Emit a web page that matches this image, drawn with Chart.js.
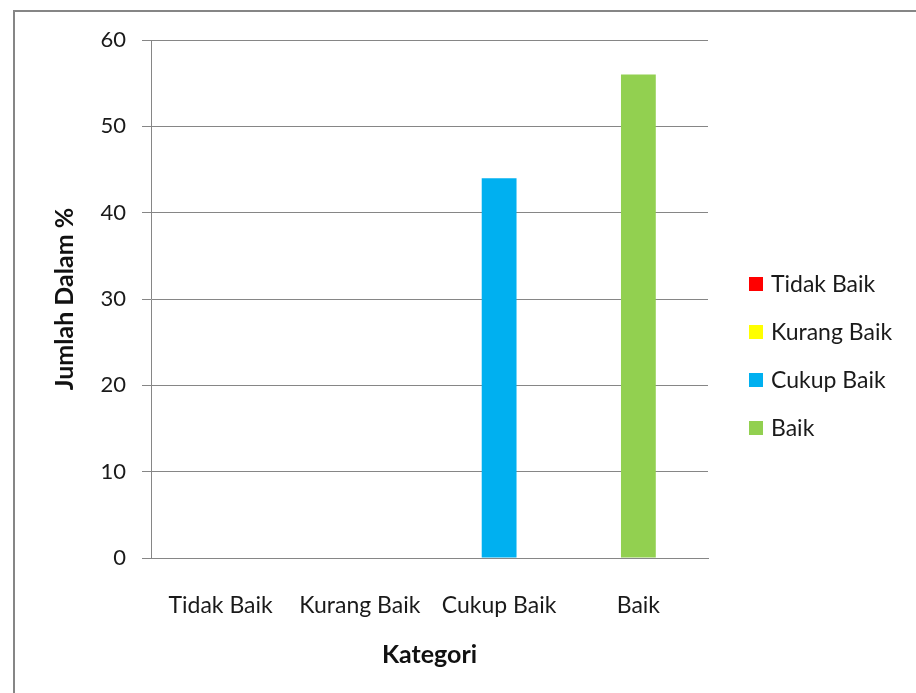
<!DOCTYPE html>
<html>
<head>
<meta charset="utf-8">
<script src="https://cdn.jsdelivr.net/npm/chart.js@4"></script>
<style>
  html, body { margin: 0; padding: 0; background: #fff; }
  #wrap { width: 916px; height: 693px; }
</style>
</head>
<body>
<div id="wrap"><canvas id="chart" width="916" height="693"></canvas></div>
<script>
// kategori dan nilai (persen)
const categories = ['Tidak Baik', 'Kurang Baik', 'Cukup Baik', 'Baik'];
const values     = [0, 0, 44, 56];
const colors     = ['#FF0000', '#FFFF00', '#00B0F0', '#92D050'];
const yTicks     = [0, 10, 20, 30, 40, 50, 60];

const FONT = 'Lato, Carlito, "Open Sans", sans-serif';
const GRAY = '#868686';

// bingkai luar ala Excel
const framePlugin = {
  id: 'frame',
  beforeDraw(chart) {
    const c = chart.ctx;
    c.save();
    c.fillStyle = '#fff';
    c.fillRect(0, 0, chart.width, chart.height);
    c.strokeStyle = GRAY;
    c.lineWidth = 2;
    c.strokeRect(14, 11, chart.width + 20, chart.height + 20);
    c.restore();
  },
};

// legenda di kanan, satu entri per kategori
const legendPlugin = {
  id: 'sideLegend',
  afterDraw(chart) {
    const c = chart.ctx;
    c.save();
    c.font = '23px ' + FONT;
    c.textBaseline = 'middle';
    categories.forEach((name, i) => {
      const y = 284 + i * 48;
      c.fillStyle = colors[i];
      c.fillRect(749, y - 7, 14, 14);
      c.fillStyle = '#1a1a1a';
      c.fillText(name, 771, y + 1);
    });
    c.restore();
  },
};

new Chart(document.getElementById('chart'), {
  type: 'bar',
  data: {
    labels: categories,
    datasets: [{
      label: 'Jumlah',
      data: values,
      backgroundColor: colors,
      barPercentage: 0.25,
      categoryPercentage: 1,
    }],
  },
  options: {
    responsive: false,
    animation: false,
    layout: { padding: { left: 0, top: 40, right: 208, bottom: 0 } },
    plugins: {
      legend: { display: false },
      tooltip: { enabled: false },
    },
    scales: {
      x: {
        afterFit: s => { s.height = 135; },
        grid: { display: false },
        border: { display: true, color: GRAY, width: 1 },
        ticks: { color: '#1a1a1a', font: { family: FONT, size: 23 }, padding: 26, maxRotation: 0 },
        title: {
          display: true, text: 'Kategori', color: '#111',
          font: { family: FONT, size: 25, weight: 'bold' },
          padding: { top: 0, bottom: 23 },
        },
      },
      y: {
        min: 0, max: 60,
        afterFit: s => { s.width = 151; },
        afterBuildTicks: s => { s.ticks = yTicks.map(v => ({ value: v })); },
        grid: { color: GRAY, lineWidth: 1, drawTicks: true, tickLength: 9, tickColor: GRAY },
        border: { display: true, color: GRAY, width: 1 },
        ticks: { color: '#1a1a1a', font: { family: FONT, size: 22 }, padding: 16 },
        title: {
          display: true, text: 'Jumlah Dalam %', color: '#111',
          font: { family: FONT, size: 25, weight: 'bold' },
          padding: { top: 50, bottom: 0 },
        },
      },
    },
  },
  plugins: [framePlugin, legendPlugin],
});
</script>
</body>
</html>
